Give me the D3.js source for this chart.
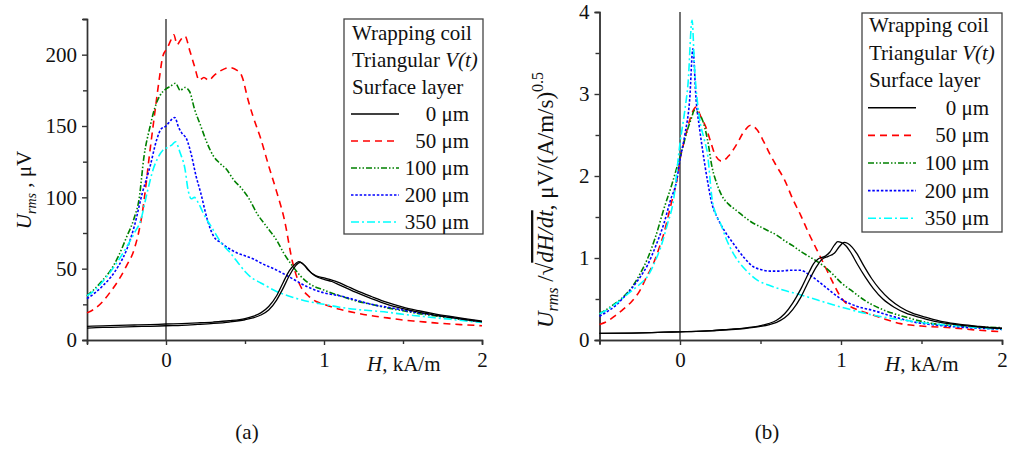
<!DOCTYPE html>
<html lang="en">

<head>
    <meta charset="UTF-8">
    <title>Urms vs H</title>
    <script src="https://cdn.jsdelivr.net/npm/d3@7"></script>
    <style>
        body { margin: 0; background: #fff; }
        svg text, svg tspan { font-family: "Liberation Serif", "Times New Roman", serif !important; fill: #111; }
    </style>
</head>

<body>
    <div id="box"></div>

    <script>
        // legend rows
        var headers = ['Wrapping coil', 'Triangular ', 'Surface layer'];
        var layers = ['0 μm', '50 μm', '100 μm', '200 μm', '350 μm'];
        var colors = ['#000', '#ff0000', '#008000', '#0000ff', '#00ffff'];
        var dashes = [null, '7,5', '6,2,1.5,2,1.5,2', '2.5,1.8', '8,3,2,3'];

        // axis ticks
        var xTicks = [0, 1, 2], xMinor = [-0.5, 0.5, 1.5];
        var yTicksA = [0, 50, 100, 150, 200], yMinorA = [25, 75, 125, 175, 225];
        var yTicksB = [0, 1, 2, 3, 4], yMinorB = [0.5, 1.5, 2.5, 3.5];

        // (a) U_rms, μV  -- [H kA/m, value]
        var a0up = [[-0.5, 8.3], [-0.4, 8.8], [-0.3, 9.0], [-0.2, 9.4], [-0.1, 9.6], [0, 10.0], [0.1, 10.3], [0.2, 10.9], [0.3, 11.6], [0.4, 12.6], [0.5, 14.2], [0.55, 15.5], [0.6, 17.5], [0.65, 21], [0.7, 28], [0.74, 36], [0.78, 45], [0.82, 52], [0.85, 54.5], [0.88, 52], [0.92, 47], [0.96, 44], [1.0, 42.5], [1.05, 41], [1.1, 38.5], [1.15, 36], [1.2, 33.5], [1.3, 29], [1.4, 25], [1.5, 22], [1.6, 19.5], [1.7, 17.5], [1.8, 15.8], [1.9, 14.2], [2.0, 12.8]];
        var a0down = [[-0.5, 9.6], [-0.4, 9.9], [-0.3, 10.3], [-0.2, 10.5], [-0.1, 10.8], [0, 11.2], [0.1, 11.5], [0.2, 12], [0.3, 12.6], [0.4, 13.5], [0.5, 15], [0.55, 16.5], [0.6, 19], [0.65, 23.5], [0.7, 31], [0.74, 40], [0.78, 48.5], [0.82, 53.5], [0.84, 55], [0.87, 53], [0.9, 49], [0.95, 45], [1.0, 43.5], [1.05, 42], [1.1, 40], [1.15, 37.5], [1.2, 35], [1.3, 30.5], [1.4, 26.3], [1.5, 23], [1.6, 20.5], [1.7, 18.3], [1.8, 16.5], [1.9, 14.8], [2.0, 13.3]];
        var a50 = [[-0.5, 19], [-0.45, 22], [-0.4, 27], [-0.35, 34], [-0.3, 42], [-0.25, 52], [-0.2, 64], [-0.15, 89], [-0.1, 134], [-0.07, 160], [-0.04, 185], [-0.02, 199], [0.01, 205], [0.03, 210], [0.05, 214], [0.07, 207], [0.09, 210], [0.12, 213], [0.15, 203], [0.18, 192], [0.21, 182], [0.24, 184], [0.27, 182], [0.3, 185], [0.35, 189], [0.4, 191], [0.45, 189], [0.48, 185], [0.52, 168], [0.55, 157], [0.6, 141], [0.65, 122], [0.7, 104], [0.75, 84], [0.8, 55], [0.85, 38], [0.9, 31], [0.95, 27], [1.0, 25], [1.1, 21.5], [1.2, 19], [1.3, 17], [1.4, 15.5], [1.5, 14], [1.6, 13], [1.7, 12], [1.8, 11.2], [1.9, 10.6], [2.0, 10]];
        var a100 = [[-0.5, 31], [-0.45, 36], [-0.4, 42], [-0.35, 49], [-0.3, 59], [-0.25, 72], [-0.2, 86], [-0.17, 99], [-0.14, 128], [-0.1, 150], [-0.07, 163], [-0.04, 171], [0, 176], [0.03, 178], [0.06, 180], [0.09, 175], [0.12, 177], [0.15, 174], [0.18, 162], [0.22, 150], [0.26, 138], [0.3, 129], [0.34, 124], [0.38, 120], [0.43, 112], [0.48, 106], [0.52, 100], [0.58, 88], [0.64, 79], [0.7, 70], [0.75, 60], [0.8, 52], [0.85, 45], [0.9, 40], [1.0, 35], [1.1, 31], [1.2, 27.5], [1.3, 25], [1.4, 22.5], [1.5, 20.5], [1.6, 18.5], [1.7, 17], [1.8, 15.5], [1.9, 14], [2.0, 12.7]];
        var a200 = [[-0.5, 29], [-0.45, 33], [-0.4, 38], [-0.35, 44], [-0.3, 52], [-0.25, 63], [-0.2, 80], [-0.15, 103], [-0.1, 122], [-0.06, 140], [-0.03, 148], [0, 150], [0.03, 154], [0.055, 156], [0.08, 149], [0.1, 145], [0.13, 141], [0.16, 130], [0.19, 115], [0.22, 103], [0.26, 85], [0.3, 73], [0.35, 68], [0.4, 64], [0.45, 61], [0.5, 59], [0.55, 57], [0.6, 54], [0.7, 49], [0.8, 43], [0.9, 37], [1.0, 33], [1.1, 31], [1.2, 28], [1.3, 25], [1.4, 23], [1.5, 21], [1.6, 19], [1.7, 17.5], [1.8, 16], [1.9, 14.3], [2.0, 12.8]];
        var a350 = [[-0.5, 31], [-0.45, 35], [-0.4, 41], [-0.35, 48], [-0.3, 56], [-0.25, 65], [-0.2, 75], [-0.16, 84], [-0.12, 103], [-0.08, 120], [-0.05, 128], [-0.02, 133], [0.01, 135], [0.04, 137], [0.06, 139], [0.09, 131], [0.12, 120], [0.14, 105], [0.16, 99], [0.18, 100], [0.2, 97], [0.24, 88], [0.3, 77], [0.35, 68], [0.4, 62], [0.45, 55], [0.5, 48], [0.55, 43], [0.6, 40], [0.7, 34], [0.8, 30], [0.9, 27], [1.0, 25], [1.1, 23], [1.2, 21.5], [1.3, 20.5], [1.4, 19.5], [1.5, 18], [1.6, 16.8], [1.7, 15.6], [1.8, 14.5], [1.9, 13.3], [2.0, 12.3]];

        // (b) U_rms / sqrt(dH/dt)
        var b0up = [[-0.5, 0.08], [-0.3, 0.085], [-0.1, 0.095], [0, 0.1], [0.1, 0.105], [0.2, 0.115], [0.3, 0.13], [0.4, 0.145], [0.5, 0.175], [0.55, 0.2], [0.6, 0.24], [0.65, 0.32], [0.7, 0.45], [0.75, 0.62], [0.8, 0.82], [0.83, 0.93], [0.86, 0.99], [0.9, 1.02], [0.93, 1.07], [0.96, 1.16], [0.98, 1.2], [1.0, 1.19], [1.03, 1.15], [1.06, 1.07], [1.1, 0.93], [1.15, 0.77], [1.2, 0.63], [1.26, 0.5], [1.33, 0.4], [1.4, 0.33], [1.5, 0.27], [1.6, 0.22], [1.7, 0.19], [1.8, 0.17], [1.9, 0.15], [2.0, 0.14]];
        var b0down = [[-0.5, 0.08], [-0.3, 0.085], [-0.1, 0.095], [0, 0.1], [0.1, 0.105], [0.2, 0.113], [0.3, 0.125], [0.4, 0.14], [0.5, 0.165], [0.55, 0.185], [0.6, 0.215], [0.65, 0.27], [0.7, 0.37], [0.75, 0.52], [0.8, 0.72], [0.85, 0.9], [0.88, 0.98], [0.92, 1.02], [0.96, 1.06], [0.99, 1.14], [1.02, 1.19], [1.04, 1.18], [1.07, 1.13], [1.1, 1.05], [1.14, 0.91], [1.19, 0.75], [1.24, 0.62], [1.3, 0.5], [1.37, 0.4], [1.44, 0.33], [1.54, 0.27], [1.64, 0.22], [1.74, 0.19], [1.84, 0.17], [1.92, 0.155], [2.0, 0.145]];
        var b50 = [[-0.5, 0.19], [-0.45, 0.23], [-0.4, 0.3], [-0.35, 0.38], [-0.3, 0.47], [-0.25, 0.6], [-0.2, 0.8], [-0.17, 0.91], [-0.13, 1.12], [-0.1, 1.3], [-0.06, 1.62], [-0.02, 1.95], [0, 2.2], [0.03, 2.45], [0.06, 2.68], [0.1, 2.84], [0.13, 2.72], [0.16, 2.6], [0.19, 2.42], [0.22, 2.25], [0.26, 2.18], [0.3, 2.24], [0.35, 2.38], [0.4, 2.55], [0.44, 2.62], [0.48, 2.56], [0.52, 2.42], [0.56, 2.26], [0.6, 2.12], [0.65, 1.95], [0.7, 1.72], [0.75, 1.52], [0.8, 1.3], [0.85, 1.1], [0.9, 0.9], [0.95, 0.7], [1.0, 0.52], [1.05, 0.42], [1.1, 0.37], [1.16, 0.33], [1.25, 0.27], [1.37, 0.2], [1.5, 0.17], [1.68, 0.15], [1.85, 0.12], [2.0, 0.1]];
        var b100 = [[-0.5, 0.32], [-0.45, 0.38], [-0.4, 0.45], [-0.35, 0.53], [-0.3, 0.64], [-0.25, 0.8], [-0.2, 1.0], [-0.15, 1.27], [-0.1, 1.6], [-0.05, 1.9], [-0.02, 2.1], [0.01, 2.3], [0.04, 2.52], [0.07, 2.7], [0.09, 2.8], [0.12, 2.75], [0.14, 2.68], [0.17, 2.45], [0.2, 2.1], [0.23, 1.9], [0.26, 1.76], [0.3, 1.66], [0.35, 1.58], [0.4, 1.5], [0.45, 1.43], [0.5, 1.38], [0.55, 1.33], [0.6, 1.28], [0.65, 1.21], [0.7, 1.15], [0.75, 1.08], [0.8, 1.02], [0.85, 0.96], [0.9, 0.89], [0.95, 0.8], [1.0, 0.7], [1.06, 0.61], [1.15, 0.48], [1.26, 0.37], [1.4, 0.28], [1.57, 0.2], [1.75, 0.17], [2.0, 0.15]];
        var b200 = [[-0.5, 0.29], [-0.45, 0.35], [-0.4, 0.42], [-0.35, 0.52], [-0.3, 0.63], [-0.25, 0.76], [-0.2, 0.92], [-0.15, 1.15], [-0.1, 1.42], [-0.06, 1.7], [-0.02, 1.95], [0, 2.2], [0.03, 2.5], [0.06, 2.93], [0.08, 3.55], [0.1, 2.93], [0.12, 2.6], [0.14, 2.32], [0.17, 1.95], [0.2, 1.65], [0.23, 1.5], [0.28, 1.32], [0.33, 1.18], [0.4, 1.0], [0.45, 0.9], [0.5, 0.86], [0.56, 0.84], [0.62, 0.84], [0.68, 0.85], [0.75, 0.85], [0.8, 0.8], [0.85, 0.73], [0.92, 0.62], [1.0, 0.5], [1.1, 0.41], [1.2, 0.36], [1.3, 0.3], [1.45, 0.22], [1.6, 0.18], [1.8, 0.15], [2.0, 0.13]];
        var b350 = [[-0.5, 0.32], [-0.45, 0.37], [-0.4, 0.44], [-0.35, 0.52], [-0.3, 0.6], [-0.25, 0.68], [-0.2, 0.78], [-0.15, 0.98], [-0.12, 1.13], [-0.08, 1.4], [-0.04, 1.71], [0, 2.4], [0.03, 2.8], [0.05, 3.13], [0.075, 3.9], [0.09, 3.33], [0.12, 2.72], [0.15, 2.45], [0.17, 2.28], [0.2, 1.71], [0.22, 1.55], [0.25, 1.43], [0.29, 1.22], [0.33, 1.06], [0.37, 0.94], [0.41, 0.85], [0.48, 0.73], [0.55, 0.67], [0.64, 0.61], [0.75, 0.55], [0.85, 0.49], [0.95, 0.43], [1.06, 0.37], [1.16, 0.32], [1.26, 0.28], [1.4, 0.24], [1.55, 0.2], [1.68, 0.18], [1.85, 0.15], [2.0, 0.13]];

        const svg = d3.select('#box')
            .append('svg')
            .attr('width', 1010)
            .attr('height', 451)
            .attr('font-family', '"Liberation Serif", serif');

        const FS = 21;

        function panel(p) {
            var x = d3.scaleLinear().domain([-0.5, 2]).range([p.x0, p.x1]);
            var y = d3.scaleLinear().domain([0, p.ymax]).range([340, p.ytop]);
            var g = svg.append('g');

            // axes
            g.append('g').attr('transform', 'translate(0,340)')
                .call(d3.axisBottom(x).tickValues(xMinor).tickSize(4).tickFormat(''));
            g.append('g').attr('transform', 'translate(0,340)')
                .call(d3.axisBottom(x).tickValues(xTicks).tickSize(5).tickPadding(7).tickFormat(d3.format('d')));
            g.append('g').attr('transform', 'translate(' + p.x0 + ',0)')
                .call(d3.axisLeft(y).tickValues(p.minor).tickSize(4).tickFormat(''));
            g.append('g').attr('transform', 'translate(' + p.x0 + ',0)')
                .call(d3.axisLeft(y).tickValues(p.ticks).tickSize(5).tickPadding(5).tickFormat(d3.format('d')));
            g.selectAll('g').attr('font-family', null);
            g.selectAll('.domain, .tick line').attr('stroke', '#333').attr('stroke-width', 1.4);
            g.selectAll('.tick text').attr('font-size', FS).attr('fill', '#111');

            // zero line
            g.append('line')
                .attr('x1', x(0)).attr('x2', x(0))
                .attr('y1', y(p.ymax)).attr('y2', y(0))
                .attr('stroke', '#444').attr('stroke-width', 1.5);

            var line = d3.line()
                .x(d => x(d[0]))
                .y(d => y(d[1]))
                .curve(d3.curveMonotoneX);

            // colored curves then the black loop
            p.series.forEach((s, i) => {
                g.append('path').datum(s)
                    .attr('d', line)
                    .attr('fill', 'none')
                    .attr('stroke', colors[i + 1])
                    .attr('stroke-width', 1.6)
                    .attr('stroke-dasharray', dashes[i + 1]);
            });
            p.black.forEach(s => {
                g.append('path').datum(s)
                    .attr('d', line)
                    .attr('fill', 'none')
                    .attr('stroke', '#000')
                    .attr('stroke-width', 1.3);
            });

            // legend
            var L = p.legend;
            var lg = g.append('g');
            lg.append('rect')
                .attr('x', L.x).attr('y', L.y).attr('width', L.w).attr('height', L.h)
                .attr('fill', '#fff').attr('stroke', '#444').attr('stroke-width', 1.3);
            headers.forEach((h, i) => {
                var t = lg.append('text')
                    .attr('x', L.tx).attr('y', L.r0 + i * L.step + 7)
                    .attr('font-size', FS)
                    .text(h);
                if (i === 1) t.append('tspan').attr('font-style', 'italic').text('V(t)');
            });
            layers.forEach((name, i) => {
                var cy = L.r0 + (i + 3) * L.step;
                lg.append('line')
                    .attr('x1', L.lx0).attr('x2', L.lx1)
                    .attr('y1', cy).attr('y2', cy)
                    .attr('stroke', colors[i])
                    .attr('stroke-width', 1.6)
                    .attr('stroke-dasharray', dashes[i]);
                lg.append('text')
                    .attr('x', L.tr).attr('y', cy + 7)
                    .attr('text-anchor', 'end')
                    .attr('font-size', FS)
                    .text(name);
            });

            // x label
            var xl = g.append('text')
                .attr('x', p.xlab[0]).attr('y', p.xlab[1])
                .attr('font-size', FS);
            xl.append('tspan').attr('font-style', 'italic').text('H');
            xl.append('tspan').text(', kA/m');

            // panel tag
            g.append('text')
                .attr('x', p.tag[0]).attr('y', 439)
                .attr('text-anchor', 'middle')
                .attr('font-size', FS)
                .text(p.tag[1]);
        }

        panel({
            x0: 87, x1: 482, ytop: 19, ymax: 225,
            ticks: yTicksA, minor: yMinorA,
            series: [a50, a100, a200, a350], black: [a0up, a0down],
            legend: { x: 344, y: 19, w: 139, h: 215, r0: 33, step: 27, tx: 352, lx0: 351, lx1: 399, tr: 469 },
            xlab: [367, 371], tag: [247, '(a)']
        });

        panel({
            x0: 599.5, x1: 1002, ytop: 12, ymax: 4,
            ticks: yTicksB, minor: yMinorB,
            series: [b50, b100, b200, b350], black: [b0up, b0down],
            legend: { x: 862, y: 13, w: 140, h: 219, r0: 25, step: 27.6, tx: 869, lx0: 868, lx1: 916, tr: 989 },
            xlab: [885, 371], tag: [767, '(b)']
        });

        // y labels
        var yla = svg.append('text')
            .attr('transform', 'translate(31,190) rotate(-90)')
            .attr('text-anchor', 'middle')
            .attr('font-size', FS);
        yla.append('tspan').attr('font-style', 'italic').text('U');
        yla.append('tspan').attr('font-style', 'italic').attr('font-size', 14).attr('dy', 5).text('rms');
        yla.append('tspan').attr('dy', -5).text(' , μV');

        var ylb = svg.append('text')
            .attr('transform', 'translate(553,200) rotate(-90)')
            .attr('text-anchor', 'middle')
            .attr('font-size', 23);
        ylb.append('tspan').attr('font-style', 'italic').text('U');
        ylb.append('tspan').attr('font-style', 'italic').attr('font-size', 16).attr('dy', 5).text('rms');
        ylb.append('tspan').attr('dy', -5).text(' /√');
        ylb.append('tspan').attr('font-style', 'italic').attr('text-decoration', 'overline').text('dH/dt');
        ylb.append('tspan').text(', μV/(A/m/s)');
        ylb.append('tspan').attr('font-size', 16).attr('dy', -10).text('0.5');
    </script>
</body>

</html>
